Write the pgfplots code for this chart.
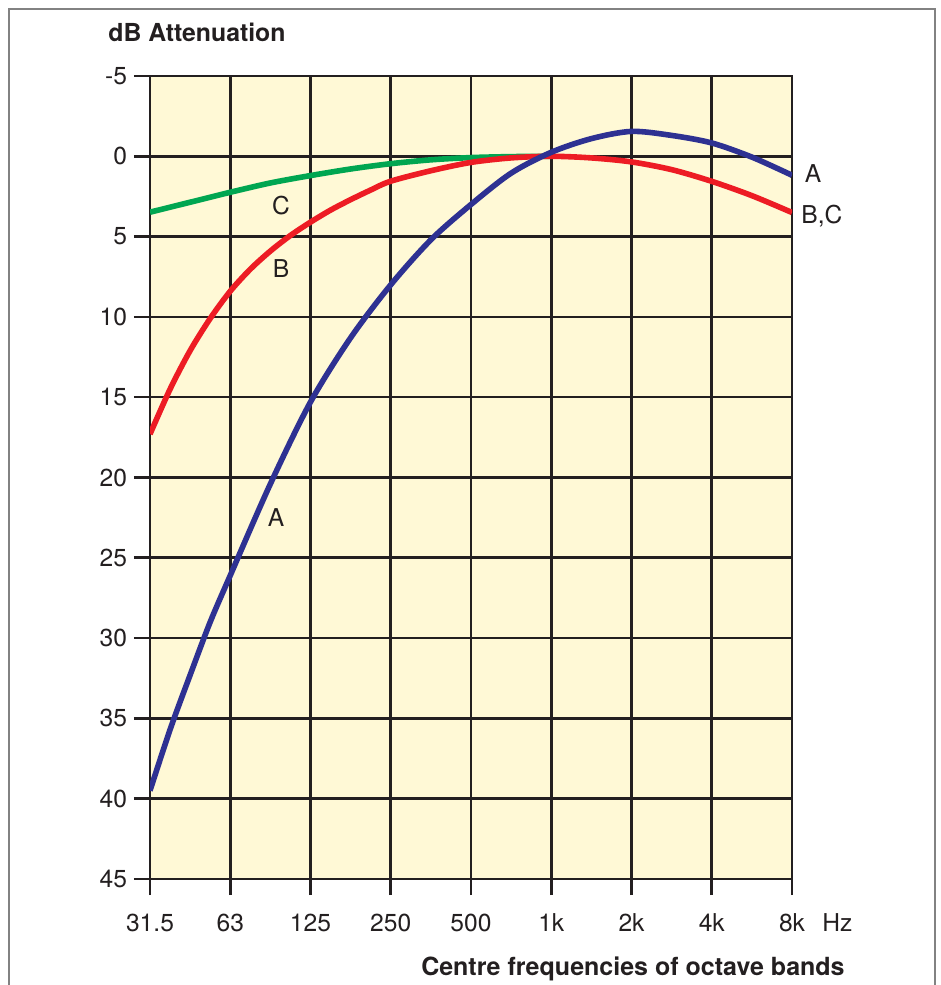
\documentclass[border=0pt]{standalone}
\usepackage{fontspec}
\setmainfont{TeX Gyre Heros}
\usepackage{pgfplots}
\pgfplotsset{compat=1.18}

\definecolor{chartbg}{RGB}{255,249,214}
\definecolor{gridblack}{RGB}{35,31,32}
\definecolor{curveA}{RGB}{46,49,146}
\definecolor{curveB}{RGB}{237,28,36}
\definecolor{curveC}{RGB}{0,166,81}
\definecolor{framegray}{RGB}{130,130,130}

% weighting in dB, x = octave band index (0 = 31.5 Hz ... 8 = 8 kHz)
\pgfplotstableread{
x    y
0    -39.5
0.25 -35.7
0.5  -32.3
0.75 -29.0
1    -26.1
1.5  -20.4
2    -15.3
2.5  -11.3
3    -8.0
3.5  -5.2
4    -3.0
4.5  -1.05
5    0.25
5.5  1.1
6    1.55
6.5  1.3
7    0.83
7.5  -0.05
8    -1.18
}\curveA

\pgfplotstableread{
x    y
0    -17.3
0.25 -14.5
0.5  -12.1
0.75 -10.1
1    -8.4
1.25 -7.03
1.5  -5.9
1.75 -4.93
2    -4.1
2.25 -3.35
2.5  -2.7
2.75 -2.1
3    -1.55
3.5  -0.9
4    -0.38
4.5  -0.1
5    0
5.5  -0.1
6    -0.35
6.5  -0.83
7    -1.56
7.5  -2.45
8    -3.5
}\curveB

\pgfplotstableread{
x    y
0    -3.48
0.5  -2.86
1    -2.24
1.5  -1.66
2    -1.2
2.5  -0.79
3    -0.46
3.5  -0.22
4    -0.08
4.5  -0.02
5    0
}\curveC

\begin{document}
\begin{tikzpicture}[x=1pt,y=1pt]
\path[use as bounding box] (0,0) rectangle (470.5,492.5);
\draw[framegray, line width=1pt] (4.5,0) -- (4.5,488) -- (467.5,488) -- (467.5,0);

\begin{axis}[
  at={(75pt,53pt)}, anchor=south west,
  scale only axis, width=321pt, height=401.5pt,
  xmin=0, xmax=8, ymin=-45, ymax=5,
  xtick={0,...,8},
  xticklabels={31.5,63,125,250,500,1k,2k,4k,8k},
  ytick={-45,-40,...,5},
  yticklabels={45,40,35,30,25,20,15,10,5,0,-5},
  tick pos=left, tick align=outside,
  major tick length=8pt,
  grid=major,
  grid style={line width=1.3pt, gridblack},
  axis line style={line width=1.3pt, gridblack},
  tick style={line width=1.3pt, gridblack},
  axis background/.style={fill=chartbg},
  ticklabel style={font=\fontsize{12.3}{14}\selectfont, text=gridblack},
  xticklabel style={anchor=base, yshift=-18pt},
  yticklabel style={anchor=east},
  every axis plot/.append style={line width=2.8pt, smooth},
]
\addplot[curveC] table {\curveC};
\addplot[curveB] table {\curveB};
\addplot[curveA] table {\curveA};
\end{axis}

\node[anchor=base west, inner sep=0pt, font=\fontsize{12.4}{14}\selectfont\bfseries, text=gridblack] at (54,471.5) {dB Attenuation};
\node[anchor=base east, inner sep=0pt, font=\fontsize{12.5}{14}\selectfont\bfseries, text=gridblack] at (422.5,5) {Centre frequencies of octave bands};
\node[anchor=base west, font=\fontsize{12.3}{14}\selectfont, text=gridblack, inner sep=0pt] at (411,26.75) {Hz};
\node[font=\fontsize{12.3}{14}\selectfont, text=gridblack, inner sep=0pt] at (140.5,389.75) {C};
\node[font=\fontsize{12.3}{14}\selectfont, text=gridblack, inner sep=0pt] at (140.5,358) {B};
\node[font=\fontsize{12.3}{14}\selectfont, text=gridblack, inner sep=0pt] at (138,233.5) {A};
\node[font=\fontsize{12.3}{14}\selectfont, text=gridblack, inner sep=0pt] at (406.5,405.5) {A};
\node[anchor=west, font=\fontsize{12.3}{14}\selectfont, text=gridblack, inner sep=0pt] at (400.5,384.5) {B,C};
\end{tikzpicture}
\end{document}
